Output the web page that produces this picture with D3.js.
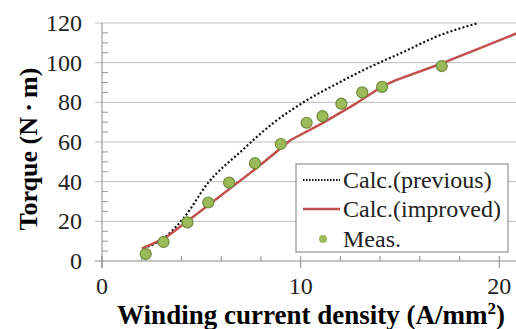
<!DOCTYPE html>
<html>
<head>
<meta charset="utf-8">
<script src="https://cdn.jsdelivr.net/npm/d3@7"></script>
</head>
<body style="margin:0">
<script>
const width = 516;
const height = 329;
const margin = { top: 23, right: 0, bottom: 68, left: 102 };
const fontName = "Liberation Serif";

// measured points
const measX = [2.2, 3.1, 4.3, 5.35, 6.4, 7.7, 9.0, 10.3, 11.1, 12.05, 13.1, 14.1, 17.1];
const measY = [3.5, 9.6, 19.5, 29.5, 39.5, 49.3, 59, 69.7, 73, 79.3, 85, 87.8, 98.3];

// Calc. (improved)
const impX = [2.0, 3.2, 5.4, 7.8, 9.5, 11.1, 12.8, 14.1, 14.8, 17.1, 19.0, 20.85];
const impY = [6.2, 11.7, 28.5, 47, 61, 69.5, 79.5, 88, 91.2, 99.6, 107.2, 114.7];

// Calc. (previous)
const prevX = [2.1, 3.1, 4.1, 5.35, 7.0, 8.6, 10.3, 12.0, 13.5, 15.2, 16.8, 18.95];
const prevY = [6.4, 11.5, 21.5, 39.5, 55.3, 69.4, 81, 90.3, 97.9, 105.5, 113, 120];

const xTicks = [0, 10, 20];
const xMinor = [2, 4, 6, 8, 12, 14, 16, 18];
const yTicks = [0, 20, 40, 60, 80, 100, 120];
const yMinor = d3.range(5, 120, 5).filter(v => v % 20 !== 0);

const legendLabels = ["Calc.(previous)", "Calc.(improved)", "Meas."];

const svg = d3.select("body").append("svg")
    .attr("width", width).attr("height", height)
    .style("display", "block");

const x = d3.scaleLinear().domain([0, 20.84]).range([margin.left, width - margin.right]);
const y = d3.scaleLinear().domain([0, 120]).range([height - margin.bottom, margin.top]);

// gridlines + major y ticks
svg.append("g").selectAll("line").data(yTicks.filter(d => d > 0)).join("line")
    .attr("x1", x(0) - 7).attr("x2", width)
    .attr("y1", d => y(d)).attr("y2", d => y(d))
    .attr("stroke", d => d === 120 ? "#d6d6d6" : "#bdbdbd")
    .attr("stroke-width", d => d === 120 ? 1.6 : 1);

// y minor ticks (inside)
svg.append("g").selectAll("line").data(yMinor).join("line")
    .attr("x1", x(0)).attr("x2", x(0) + 6)
    .attr("y1", d => y(d)).attr("y2", d => y(d))
    .attr("stroke", "#9a9a9a");

// axes lines
svg.append("line").attr("x1", x(0)).attr("x2", x(0)).attr("y1", y(120)).attr("y2", y(0) + 7)
    .attr("stroke", "#8a8a8a");
svg.append("line").attr("x1", x(0) - 7).attr("x2", width).attr("y1", y(0)).attr("y2", y(0))
    .attr("stroke", "#8a8a8a");

// x ticks
svg.append("g").selectAll("line").data(xMinor).join("line")
    .attr("x1", d => x(d)).attr("x2", d => x(d))
    .attr("y1", y(0) - 5).attr("y2", y(0))
    .attr("stroke", "#8a8a8a");
svg.append("g").selectAll("line").data(xTicks).join("line")
    .attr("x1", d => x(d)).attr("x2", d => x(d))
    .attr("y1", y(0) - 5).attr("y2", y(0) + 7)
    .attr("stroke", "#8a8a8a");

// tick labels
svg.append("g").selectAll("text").data(yTicks).join("text")
    .attr("x", 82).attr("y", d => y(d))
    .attr("text-anchor", "end").attr("dominant-baseline", "central")
    .style("font-family", () => fontName).attr("font-size", 24).attr("fill", "#222")
    .text(d => d);
svg.append("g").selectAll("text").data(xTicks).join("text")
    .attr("x", d => x(d)).attr("y", 286)
    .attr("text-anchor", "middle").attr("dominant-baseline", "central")
    .style("font-family", () => fontName).attr("font-size", 24).attr("fill", "#222")
    .text(d => d);

// axis titles
svg.append("text")
    .attr("transform", "translate(37,149) rotate(-90)")
    .attr("text-anchor", "middle")
    .style("font-family", () => fontName).attr("font-size", 26).attr("font-weight", "bold")
    .text("Torque (N\u2009\u00b7\u2009m)");

const xt = svg.append("text")
    .attr("x", 311).attr("y", 324)
    .attr("text-anchor", "middle")
    .style("font-family", () => fontName).attr("font-size", 27).attr("font-weight", "bold");
xt.append("tspan").text("Winding current density (A/mm");
xt.append("tspan").attr("font-size", 17).attr("dy", -10).text("2");
xt.append("tspan").attr("dy", 10).text(")");

// clip for the plot
svg.append("clipPath").attr("id", "plot").append("rect")
    .attr("x", x(0)).attr("y", y(120) - 1).attr("width", width - x(0)).attr("height", y(0) - y(120) + 1);

const line = d3.line().x(d => x(d[0])).y(d => y(d[1]));
const plot = svg.append("g").attr("clip-path", "url(#plot)");

plot.append("path")
    .datum(d3.zip(prevX, prevY))
    .attr("d", line.curve(d3.curveMonotoneX))
    .attr("fill", "none").attr("stroke", "#111").attr("stroke-width", 2.2)
    .attr("stroke-dasharray", "2 2.2");

plot.append("path")
    .datum(d3.zip(impX, impY))
    .attr("d", line.curve(d3.curveLinear))
    .attr("fill", "none").attr("stroke", "#c0504d").attr("stroke-width", 2.5)
    .attr("stroke-linejoin", "round");

svg.append("g").selectAll("circle").data(d3.zip(measX, measY)).join("circle")
    .attr("cx", d => x(d[0])).attr("cy", d => y(d[1])).attr("r", 5.5)
    .attr("fill", "#9bbb59").attr("stroke", "#6e8a3a").attr("stroke-width", 1.2);

// legend
const lg = svg.append("g");
lg.append("rect").attr("x", 296).attr("y", 164).attr("width", 212).attr("height", 88)
    .attr("fill", "#fff").attr("stroke", "#7f7f7f").attr("stroke-width", 1);
const ly = [180, 209, 239];
lg.append("line").attr("x1", 303).attr("x2", 340).attr("y1", ly[0]).attr("y2", ly[0])
    .attr("stroke", "#111").attr("stroke-width", 1.8).attr("stroke-dasharray", "1.5 1.5");
lg.append("line").attr("x1", 303).attr("x2", 340).attr("y1", ly[1]).attr("y2", ly[1])
    .attr("stroke", "#c0504d").attr("stroke-width", 2.5);
lg.append("circle").attr("cx", 323).attr("cy", ly[2]).attr("r", 4)
    .attr("fill", "#9bbb59");
lg.selectAll("text").data(legendLabels).join("text")
    .attr("x", 343).attr("y", (d, i) => ly[i])
    .attr("dominant-baseline", "central")
    .style("font-family", () => fontName).attr("font-size", 24).attr("fill", "#222")
    .text(d => d);
</script>
</body>
</html>
